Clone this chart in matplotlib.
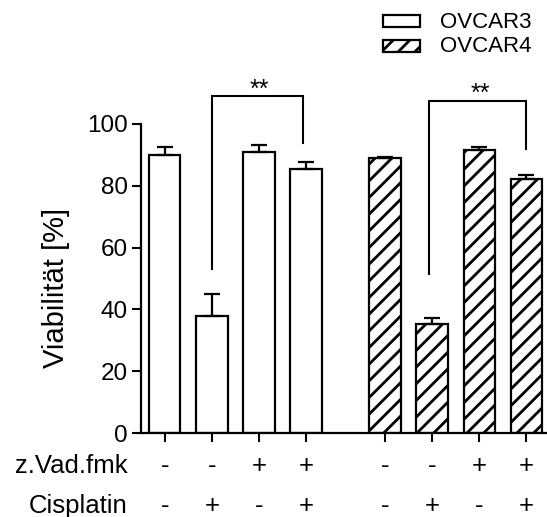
import matplotlib
matplotlib.use("Agg")
import matplotlib.pyplot as plt
from matplotlib.patches import Rectangle
from matplotlib.transforms import blended_transform_factory

plt.rcParams['font.family'] = ['Liberation Sans', 'DejaVu Sans']
plt.rcParams['hatch.linewidth'] = 2.0

# Data
series_names = ["OVCAR3", "OVCAR4"]
ovcar3_mean = [90.0, 37.9, 91.0, 85.5]
ovcar3_err = [2.5, 7.2, 2.1, 2.3]
ovcar4_mean = [88.9, 35.4, 91.7, 82.1]
ovcar4_err = [0.3, 1.8, 1.0, 1.4]
zvad_labels = ["-", "-", "+", "+"]
cis_labels = ["-", "+", "-", "+"]
yticks = [0, 20, 40, 60, 80, 100]

W, H = 547, 517
fig = plt.figure(figsize=(W / 100, H / 100), dpi=100)
ax = fig.add_axes([141 / W, (H - 433) / H, (W - 141) / W, (433 - 124) / H])

x3 = [0, 1, 2, 3]
x4 = [4.67 + i for i in range(4)]
bw = 0.665

ax.bar(x3, ovcar3_mean, width=bw, color="white", edgecolor="black", linewidth=1.6, zorder=2)
ax.bar(x4, ovcar4_mean, width=bw, color="white", edgecolor="black", linewidth=1.6,
       hatch="//", zorder=2)
for xs, m, e in [(x3, ovcar3_mean, ovcar3_err), (x4, ovcar4_mean, ovcar4_err)]:
    ax.errorbar(xs, m, yerr=[[0] * len(e), e], fmt="none", ecolor="black",
                elinewidth=1.6, capsize=6, capthick=1.6, zorder=3)

ax.set_xlim(-0.503, 8.108)
ax.set_ylim(0, 100)
ax.set_yticks(yticks)
ax.set_xticks(x3 + x4)
ax.set_xticklabels([])
ax.tick_params(axis="both", direction="out", length=6.5, width=1.5, color="black")
ax.tick_params(axis="y", labelsize=17.5, pad=3)
for s in ["top", "right"]:
    ax.spines[s].set_visible(False)
for s in ["left", "bottom"]:
    ax.spines[s].set_linewidth(1.6)

fig.text(56 / W, 1 - 288 / H, "Viabilität [%]", rotation=90, ha="center", va="center",
         fontsize=21)

# Significance brackets
def bracket(x0, x1, y, yl, yr, xs, ys):
    ax.plot([x0, x0, x1, x1], [yl, y, y, yr], color="black", lw=1.5,
            clip_on=False, solid_joinstyle="miter")
    ax.text(xs, ys, "**", ha="center", va="center", fontsize=18, clip_on=False)

bracket(1.0, 2.93, 109.2, 53.0, 93.7, 2.0, 111.2)
bracket(5.60, 7.67, 107.4, 51.3, 91.9, 6.69, 109.8)

# Treatment rows under the axis
tr = blended_transform_factory(ax.transData, fig.transFigure)
rows = [("z.Vad.fmk", zvad_labels, 473), ("Cisplatin", cis_labels, 513)]
for name, labels, base in rows:
    fig.text(128 / W, 1 - base / H, name, ha="right", va="baseline", fontsize=18.5)
    for xi, lab in zip(x3 + x4, labels + labels):
        ax.text(xi, 1 - base / H, lab, transform=tr, ha="center", va="baseline",
                fontsize=18.5)

# Legend
for i, (name, hatch) in enumerate(zip(series_names, [None, "//"])):
    top = 15 + 25 * i
    rect = Rectangle((383 / W, 1 - (top + 12) / H), 37 / W, 12 / H, transform=fig.transFigure,
                     facecolor="white", edgecolor="black", linewidth=1.6, hatch=hatch)
    fig.patches.append(rect)
    fig.text(440 / W, 1 - (top + 7) / H, name, ha="left", va="center", fontsize=16)

fig.savefig("out.png", dpi=100)
